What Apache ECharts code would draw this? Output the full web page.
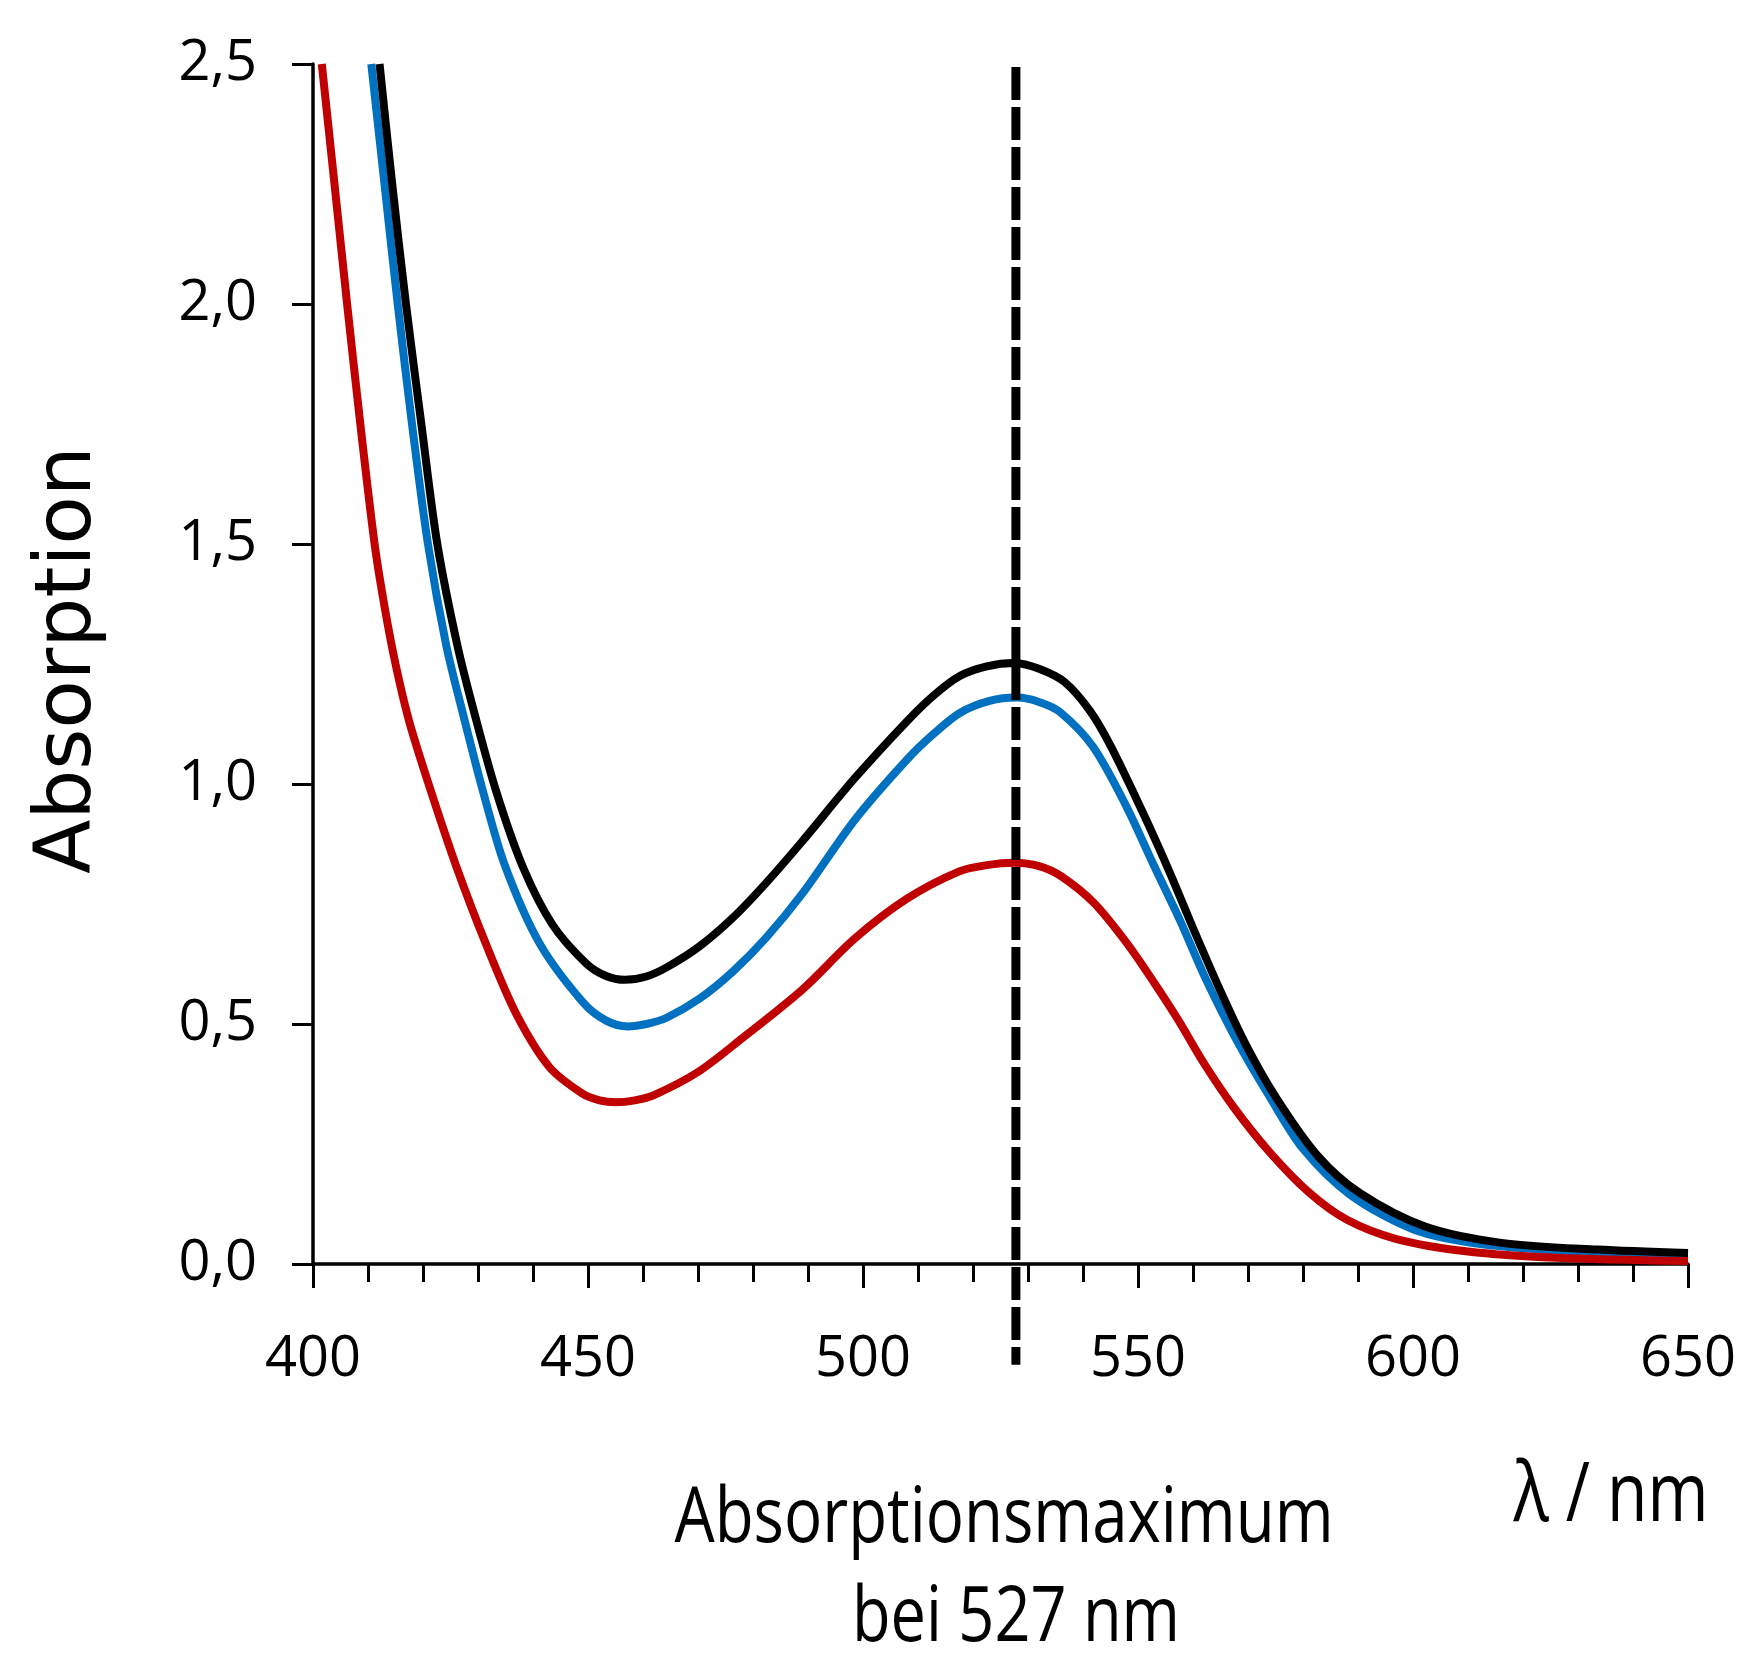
<!DOCTYPE html>
<html>
<head>
<meta charset="utf-8">
<script src="https://cdn.jsdelivr.net/npm/echarts@6/dist/echarts.min.js"></script>
<style>
html,body{margin:0;padding:0;background:#fff;}
#chart{width:1742px;height:1654px;}
</style>
</head>
<body>
<div id="chart"></div>
<script>
// wavelength (nm) and absorption values
const blackX = [412.1, 414.4, 416.9, 419.7, 422.6, 426.3, 429.4, 433.3, 438.2, 443.6, 449.7, 453.3, 456.7, 460.6, 464.3, 470.3, 476.4, 482.4, 488.7, 498.5, 508.1, 512.9, 517.6, 522.5, 527.5, 532.0, 536.7, 541.3, 545.0, 550.9, 555.8, 560.0, 564.9, 569.7, 575.2, 582.7, 590.3, 602.2, 616.1, 633.5, 650];
const blackY = [2.50, 2.25, 2.00, 1.75, 1.50, 1.286, 1.145, 0.985, 0.826, 0.706, 0.626, 0.600, 0.592, 0.599, 0.618, 0.662, 0.722, 0.794, 0.877, 1.012, 1.132, 1.185, 1.225, 1.245, 1.252, 1.240, 1.212, 1.152, 1.080, 0.940, 0.815, 0.700, 0.571, 0.455, 0.345, 0.225, 0.148, 0.078, 0.044, 0.030, 0.023];

const blueX = [410.6, 413.0, 415.4, 418.0, 420.9, 424.2, 427.4, 430.9, 434.9, 441.2, 449.1, 453.3, 457.3, 460.6, 464.3, 470.3, 476.4, 482.4, 489.0, 498.5, 508.1, 512.9, 517.6, 523.0, 528.0, 532.0, 535.8, 541.8, 547.9, 552.7, 557.6, 562.4, 567.9, 573.9, 580.0, 588.5, 600.1, 612.6, 630.0, 650];
const blueY = [2.50, 2.25, 2.00, 1.75, 1.50, 1.29, 1.14, 0.985, 0.83, 0.668, 0.545, 0.507, 0.495, 0.500, 0.513, 0.553, 0.610, 0.680, 0.772, 0.925, 1.052, 1.105, 1.148, 1.173, 1.180, 1.171, 1.150, 1.078, 0.953, 0.835, 0.717, 0.592, 0.467, 0.349, 0.240, 0.145, 0.072, 0.041, 0.026, 0.019];

const redX = [401.6, 404.0, 406.2, 408.7, 411.2, 413.0, 415.0, 417.5, 421.3, 426.0, 431.5, 437.0, 443.0, 449.0, 452.1, 455.0, 458.5, 462.0, 470.0, 478.0, 489.0, 498.5, 508.0, 517.5, 522.5, 527.5, 532.0, 536.0, 542.0, 548.0, 553.0, 557.5, 562.0, 567.5, 574.0, 581.0, 588.0, 597.0, 610.0, 626.0, 650];
const redY = [2.50, 2.24, 2.00, 1.74, 1.50, 1.37, 1.25, 1.13, 0.99, 0.83, 0.665, 0.52, 0.41, 0.355, 0.341, 0.337, 0.341, 0.352, 0.40, 0.47, 0.572, 0.678, 0.761, 0.818, 0.831, 0.836, 0.829, 0.808, 0.752, 0.668, 0.585, 0.505, 0.418, 0.325, 0.232, 0.150, 0.092, 0.052, 0.026, 0.013, 0.006];

// absorption-maximum marker position (nm) and its vertical extent in axis units
const peakX = [527.8, 527.8];
const peakY = [2.5, -0.21];

const xTicks = [400, 450, 500, 550, 600, 650];
const yTicks = [0, 0.5, 1.0, 1.5, 2.0, 2.5];

const yTitle = 'Absorption';
const xTitle = 'λ / nm';
const noteLines = ['Absorptionsmaximum', 'bei 527 nm'];

const zip = (xs, ys) => xs.map((x, i) => [x, ys[i]]);
const tickFont = "'Open Sans','Noto Sans',sans-serif";

// condense text to the reference width (narrow font look)
const measureCtx = document.createElement('canvas').getContext('2d');
function fitScale(text, size, family, target) {
  measureCtx.font = size + 'px ' + family;
  return target / measureCtx.measureText(text).width;
}

const chart = echarts.init(document.getElementById('chart'), null, {renderer: 'canvas'});
const lineSeries = (name, xs, ys, color, z) => ({
  name, type: 'line', data: zip(xs, ys), showSymbol: false, symbol: 'none',
  smooth: 0.3, clip: true, z,
  lineStyle: {color, width: 8, cap: 'butt', join: 'round'}
});

const titleText = (text, x, y, size, target) => ({
  type: 'text', x, y, scaleX: fitScale(text, size, tickFont, target),
  style: {text, fontSize: size, fontFamily: tickFont, fill: '#000',
    align: 'center', verticalAlign: 'middle', textAlign: 'center', textVerticalAlign: 'middle'}
});

chart.setOption({
  animation: false,
  backgroundColor: '#ffffff',
  grid: {left: 313, right: 54, top: 64, bottom: 390, containLabel: false},
  xAxis: {
    type: 'value', min: xTicks[0], max: xTicks[xTicks.length - 1], interval: 50,
    axisLine: {show: true, onZero: false, lineStyle: {color: '#000', width: 3.5}},
    axisTick: {show: true, length: 24, lineStyle: {color: '#000', width: 3}},
    minorTick: {show: true, splitNumber: 5, length: 18, lineStyle: {color: '#000', width: 3}},
    splitLine: {show: false}, minorSplitLine: {show: false},
    axisLabel: {color: '#000', fontSize: 56, fontFamily: tickFont, margin: 68}
  },
  yAxis: {
    type: 'value', min: yTicks[0], max: yTicks[yTicks.length - 1], interval: 0.5,
    axisLine: {show: true, lineStyle: {color: '#000', width: 3.5}},
    axisTick: {show: true, length: 21, lineStyle: {color: '#000', width: 3}},
    splitLine: {show: false},
    axisLabel: {color: '#000', fontSize: 56, fontFamily: tickFont, margin: 56,
      formatter: v => v.toFixed(1).replace('.', ',')}
  },
  series: [
    lineSeries('blau', blueX, blueY, '#0070C0', 2),
    lineSeries('schwarz', blackX, blackY, '#000000', 3),
    lineSeries('rot', redX, redY, '#C00000', 4),
    {
      name: 'max', type: 'line', data: zip(peakX, peakY), showSymbol: false, symbol: 'none',
      clip: false, z: 5,
      lineStyle: {color: '#000', width: 9, type: [33, 7], dashOffset: 37, cap: 'butt'}
    }
  ],
  graphic: [
    {type: 'text', x: 69, y: 660, rotation: Math.PI / 2,
      style: {text: yTitle, fontSize: 79, fontFamily: "'DejaVu Sans',sans-serif", fill: '#000',
        align: 'center', verticalAlign: 'middle', textAlign: 'center', textVerticalAlign: 'middle'}},
    titleText(xTitle, 1611, 1498, 82, 195),
    titleText(noteLines[0], 1004, 1520, 77, 659),
    titleText(noteLines[1], 1016, 1619, 77, 328)
  ]
});
</script>
</body>
</html>
